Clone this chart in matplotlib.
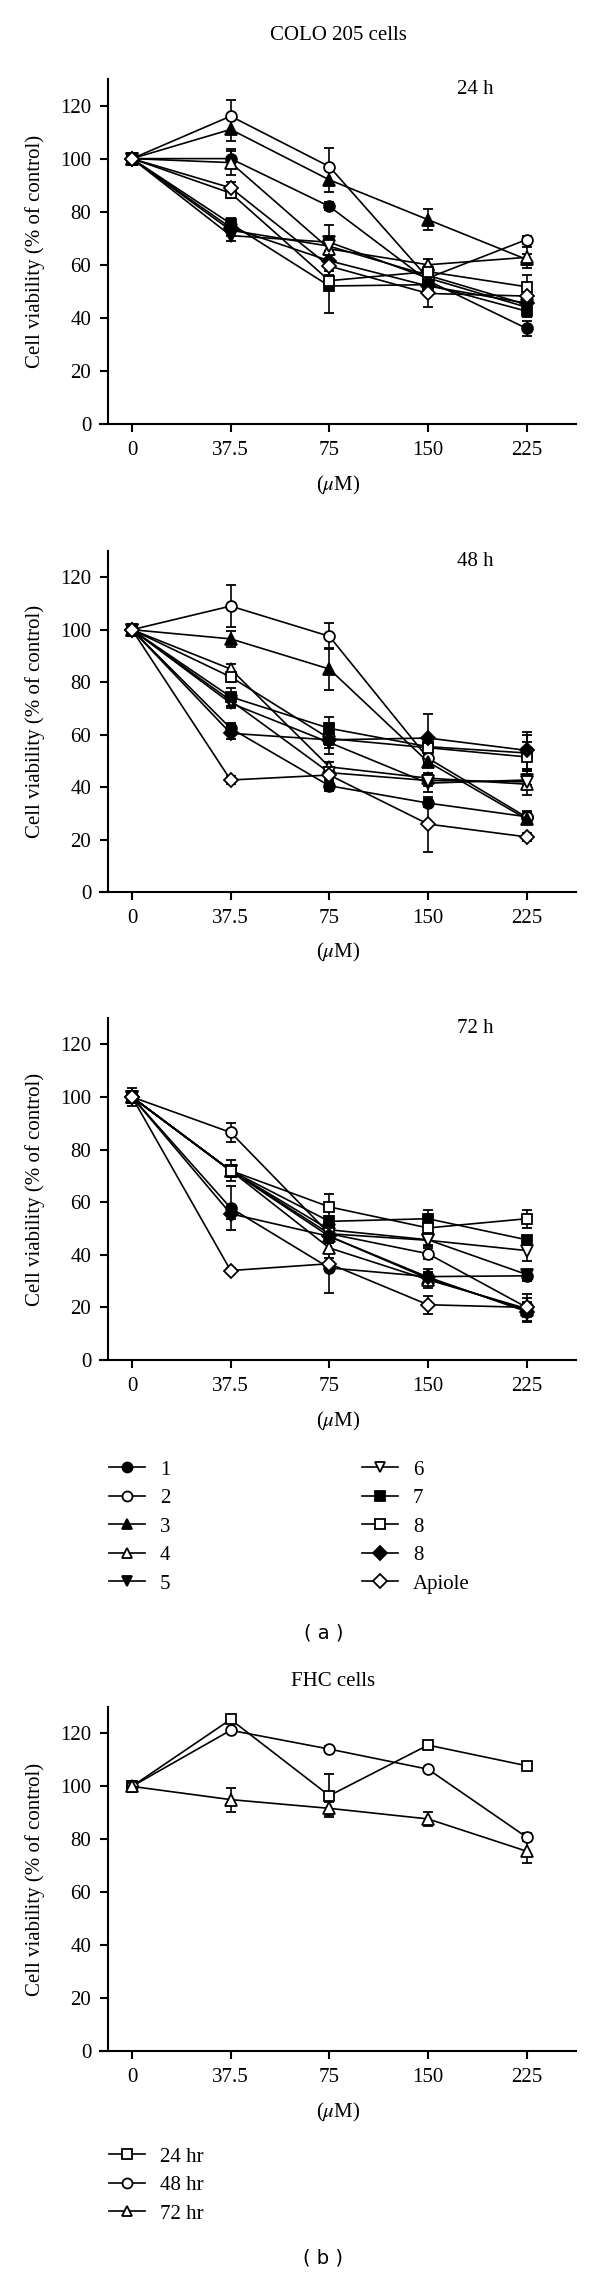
import matplotlib
matplotlib.use('Agg')
import matplotlib.pyplot as plt
import numpy as np
from matplotlib.lines import Line2D

plt.rcParams['font.family'] = ['Liberation Serif', 'DejaVu Serif']
plt.rcParams['mathtext.fontset'] = 'stix'

# ---------------- data ----------------
conc_labels = ['0', '37.5', '75', '150', '225']
compounds = ['1', '2', '3', '4', '5', '6', '7', '8', '8', 'Apiole']
markers = ['o', 'o', '^', '^', 'v', 'v', 's', 's', 'D', 'D']
filled = [True, False, True, False, True, False, True, False, True, False]

viab_24h = [
    [100, 100, 82, 54, 36],
    [100, 116, 97, 55, 69.5],
    [100, 111, 92, 77, 62],
    [100, 98.5, 66, 60, 62.8],
    [100, 71, 68.5, 55, 44],
    [100, 73, 67, 56, 45],
    [100, 75.5, 52, 52.5, 42.5],
    [100, 87, 54, 57.4, 51.7],
    [100, 74, 61.5, 52, 45.5],
    [100, 89, 59.5, 49.2, 48.2],
]
err_24h = [
    [1, 3.5, 1.5, 2, 3],
    [1, 6, 7, 2, 1.5],
    [1, 4.5, 4.5, 4, 2],
    [1, 4.5, 2, 2, 4],
    [1, 2, 6.5, 2, 2],
    [1, 2, 2, 2, 2],
    [1, 2, 10, 2, 2],
    [1, 2, 2, 2, 4.5],
    [1, 2, 2, 2, 2],
    [1, 2, 2, 5, 2],
]

viab_48h = [
    [100, 62.4, 40.5, 33.9, 28.7],
    [100, 109, 97.5, 51, 28.5],
    [100, 96.5, 85, 49.6, 27.8],
    [100, 85, 47.7, 43.4, 41.1],
    [100, 72, 57, 41.5, 42.7],
    [100, 73, 45.5, 42.5, 42],
    [100, 74.4, 62.4, 55.4, 53],
    [100, 82, 58.5, 55, 51.5],
    [100, 60.5, 58, 58.7, 54],
    [100, 42.7, 44.6, 25.9, 21],
]
err_48h = [
    [1, 2, 2, 1.5, 2],
    [1, 8, 5, 2, 2],
    [1, 3, 8, 2, 2],
    [1, 2, 2, 2, 2],
    [1, 2, 2, 3.5, 2],
    [1, 2, 2, 2, 5],
    [1, 3.5, 4.5, 3, 7],
    [1, 2, 6, 2, 5.5],
    [1, 2, 2, 9, 7],
    [1, 1.5, 2, 10.5, 1.5],
]

viab_72h = [
    [100, 57.8, 35, 31.7, 32],
    [100, 86.5, 48, 40.4, 20],
    [100, 72, 47, 31, 19],
    [100, 72, 42.6, 30.5, 19.5],
    [100, 72, 49.5, 45.7, 32.5],
    [100, 72, 48, 45.5, 41.6],
    [100, 72, 52.7, 53.7, 45.7],
    [100, 72, 58.2, 50.2, 53.7],
    [100, 55.6, 47, 31.5, 18.4],
    [100, 34, 36.6, 21, 20],
]
err_72h = [
    [1, 8.5, 9.5, 3, 2],
    [1, 3.5, 2, 2, 2],
    [1, 4, 2, 2, 4.5],
    [1, 2, 2, 3, 2],
    [1, 2, 2, 2, 1],
    [1, 2, 2, 2, 4],
    [1, 2, 2, 3.5, 1.5],
    [1, 2, 5, 2, 3.5],
    [1, 2, 2, 2, 2],
    [3.5, 1, 2, 3.5, 5],
]

fhc_labels = ['24 hr', '48 hr', '72 hr']
fhc_markers = ['s', 'o', '^']
fhc_viab = [
    [100, 125.3, 96.5, 115.6, 107.8],
    [100, 121.2, 114.1, 106.5, 80.8],
    [100, 95, 91.7, 87.7, 75.5],
]
fhc_err = [
    [1, 1.5, 8, 1.5, 1.5],
    [1, 1, 1, 1, 1.5],
    [2, 4.5, 2.5, 2.5, 4.5],
]

# ---------------- layout ----------------
W, H = 600, 2275
fig = plt.figure(figsize=(W / 100, H / 100), dpi=100)
FS = 15
FSPX = FS * 100 / 72


def make_axes(top_px, bottom_px):
    ax = fig.add_axes([100 / W, 1 - bottom_px / H, 476 / W, (bottom_px - top_px) / H])
    ax.set_xlim(-0.324, 4.5)
    ax.set_ylim(0, 130)
    for s in ['top', 'right']:
        ax.spines[s].set_visible(False)
    ax.spines['left'].set_position(('data', -0.243))
    ax.spines['left'].set_linewidth(1.5)
    ax.spines['bottom'].set_linewidth(1.5)
    x = np.arange(len(conc_labels))
    ax.set_xticks(x)
    ax.set_xticklabels(conc_labels)
    ax.set_yticks(np.arange(0, 121, 20))
    ax.tick_params(direction='out', length=6, width=1.5, labelsize=FS, pad=6)
    ax.set_ylabel('Cell viability (% of control)', fontsize=FS)
    ax.yaxis.set_label_coords(-0.115, 0.5)
    ax.set_xlabel('(' + r'$\mu$' + 'M)', fontsize=FS)
    ax.xaxis.set_label_coords(0.5, -0.145)
    return ax


def msize(m):
    return {'o': 7.8, 's': 7.3, '^': 8, 'v': 8, 'D': 7.6}[m]


def draw(ax, data, errs, mks, fills):
    x = np.arange(len(conc_labels))
    for vals, e, m, f in zip(data, errs, mks, fills):
        ax.errorbar(x, vals, yerr=e, color='k', marker=m,
                    mfc='k' if f else 'w', mec='k', ms=msize(m), mew=1.3,
                    lw=1.2, elinewidth=1.2, capsize=3.5, capthick=1.2)


panels = [
    (79, 424, viab_24h, err_24h, '24 h'),
    (551, 892, viab_48h, err_48h, '48 h'),
    (1018, 1360, viab_72h, err_72h, '72 h'),
]
for top, bot, d, e, lab in panels:
    ax = make_axes(top, bot)
    draw(ax, d, e, markers, filled)
    ax.text(3.48, 126, lab, ha='center', va='center', fontsize=FS)

fig.text(338 / W, 1 - 35 / H, 'COLO 205 cells', ha='center', va='center', fontsize=FS)

# legend (a)
handles = [Line2D([], [], color='k', marker=m, mfc='k' if f else 'w', mec='k',
                  ms=msize(m) - 0.6, mew=1.3, lw=1.2)
           for m, f in zip(markers, filled)]
leg_kw = dict(frameon=False, loc='upper left', borderpad=0, borderaxespad=0,
              handlelength=36 / FSPX, handletextpad=15 / FSPX,
              labelspacing=0.43, fontsize=FS)
fig.legend(handles[:5], compounds[:5], bbox_to_anchor=(109 / W, 1 - 1460 / H), **leg_kw)
fig.legend(handles[5:], compounds[5:], bbox_to_anchor=(362 / W, 1 - 1460 / H), **leg_kw)

fig.text(324 / W, 1 - 1633 / H, '( a )', ha='center', va='center', fontsize=14,
         family=['DejaVu Sans'])

# panel b
axb = make_axes(1707, 2051)
draw(axb, fhc_viab, fhc_err, fhc_markers, [False, False, False])
fig.text(333 / W, 1 - 1682 / H, 'FHC cells', ha='center', va='center', fontsize=FS)
hb = [Line2D([], [], color='k', marker=m, mfc='w', mec='k', ms=msize(m) - 0.6,
             mew=1.3, lw=1.2) for m in fhc_markers]
fig.legend(hb, fhc_labels, bbox_to_anchor=(109 / W, 1 - 2147 / H), **leg_kw)
fig.text(323 / W, 1 - 2258 / H, '( b )', ha='center', va='center', fontsize=14,
         family=['DejaVu Sans'])

fig.savefig('out.png', dpi=100)
